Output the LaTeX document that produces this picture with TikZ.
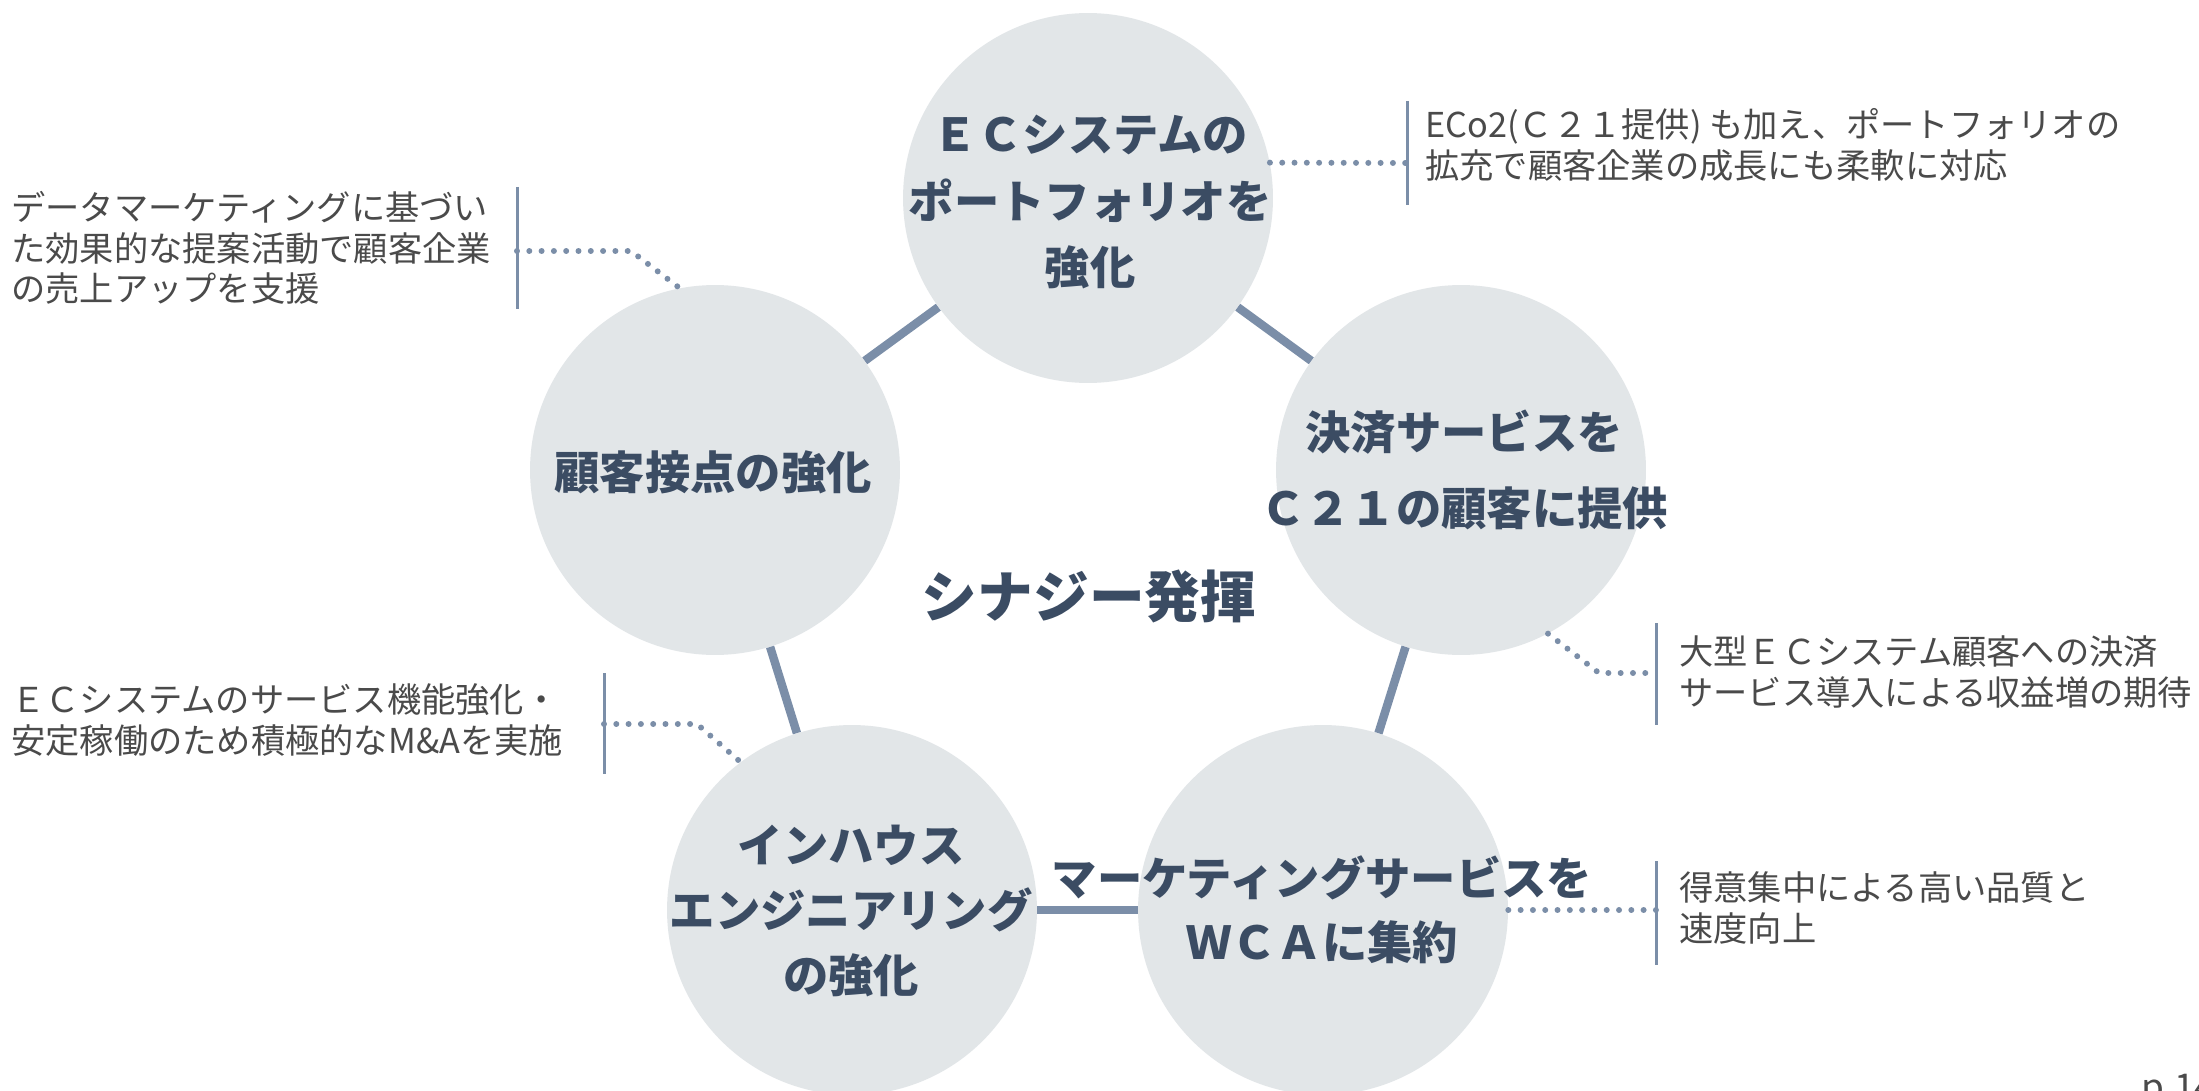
\documentclass[tikz,border=0pt]{standalone}
\usepackage{fontspec}
\setmainfont{Noto Sans CJK JP}
\definecolor{cfill}{HTML}{E2E6E8}
\definecolor{lblue}{HTML}{7B8EA8}
\definecolor{tdark}{HTML}{3B4C63}
\definecolor{tgray}{HTML}{4A4A4A}
\begin{document}
\begin{tikzpicture}[x=0.02cm,y=-0.02cm,
  circ/.style={circle, fill=cfill, minimum size=7.4cm, inner sep=0pt},
  ctext/.style={text=tdark, align=center, inner sep=0pt},
  link/.style={draw=lblue, line width=4.8pt},
  dotline/.style={draw=lblue, line width=3.4pt, line cap=round, dash pattern=on 0pt off 7pt},
  bar/.style={draw=lblue, line width=1.7pt},
  note/.style={font=\fontsize{19.5pt}{23.2pt}\selectfont, text=tgray, align=left, inner sep=0pt, anchor=west}]
\useasboundingbox (0,0) rectangle (2199,1091);
\fill[white] (0,0) rectangle (2199,1091);

% circles
\node[circ] (ctop) at (1088,198) {};
\node[circ] (cleft) at (715,470) {};
\node[circ] (cright) at (1461,470) {};
\node[circ] (cbl) at (852,910) {};
\node[circ] (cbr) at (1323,910) {};

% links
\draw[link] (ctop) -- (cleft);
\draw[link] (ctop) -- (cright);
\draw[link] (cright) -- (cbr);
\draw[link] (cbr) -- (cbl);
\draw[link] (cbl) -- (cleft);

% circle texts
\node[ctext, font=\fontsize{25.8pt}{38pt}\selectfont\bfseries] (ttop) at (1090,202) {ＥＣシステムの\\ポートフォリオを\\強化};
\node[ctext, font=\fontsize{25.8pt}{38pt}\selectfont\bfseries] (tleft) at (713,472) {顧客接点の強化};
\node[ctext, font=\fontsize{25.8pt}{43.6pt}\selectfont\bfseries] (tright) at (1464,470) {決済サービスを\\Ｃ２１の顧客に提供};
\node[ctext, font=\fontsize{25.8pt}{36.8pt}\selectfont\bfseries] (tbl) at (851,911) {インハウス\\エンジニアリング\\の強化};
\node[ctext, font=\fontsize{25.8pt}{36.3pt}\selectfont\bfseries] (tbr) at (1322,910) {マーケティングサービスを\\ＷＣＡに集約};
\node[ctext, font=\fontsize{31.7pt}{38pt}\selectfont\bfseries] (syn) at (1089,596) {シナジー発揮};

% notes
\node[note] (n1) at (1425,145) {ECo2(Ｃ２１提供) も加え、ポートフォリオの\\拡充で顧客企業の成長にも柔軟に対応};
\node[note] (n2) at (11,248) {データマーケティングに基づい\\た効果的な提案活動で顧客企業\\の売上アップを支援};
\node[note] (n3) at (1679,672) {大型ＥＣシステム顧客への決済\\サービス導入による収益増の期待};
\node[note] (n4) at (11,720) {ＥＣシステムのサービス機能強化・\\安定稼働のため積極的なM\&Aを実施};
\node[note] (n5) at (1679,908) {得意集中による高い品質と\\速度向上};

% bars
\coordinate (b1t) at (1407,101); \coordinate (b1b) at (1407,205);
\coordinate (b2t) at (517,187);  \coordinate (b2b) at (517,309);
\coordinate (b3t) at (1656,623); \coordinate (b3b) at (1656,725);
\coordinate (b4t) at (604,673);  \coordinate (b4b) at (604,774);
\coordinate (b5t) at (1656,861); \coordinate (b5b) at (1656,965);
\draw[bar] (b1t) -- (b1b);
\draw[bar] (b2t) -- (b2b);
\draw[bar] (b3t) -- (b3b);
\draw[bar] (b4t) -- (b4b);
\draw[bar] (b5t) -- (b5b);

% dotted leaders
\coordinate (d1) at (1407,163);
\draw[dotline] (ctop.11) -- (d1);
\coordinate (d2) at (517,251); \coordinate (k2) at (631,251);
\draw[dotline] (d2) -- (k2) -- (cleft.101);
\coordinate (d3) at (1656,673); \coordinate (k3) at (1599,673);
\draw[dotline] (cright.-62) -- (k3) -- (d3);
\coordinate (d4) at (604,724); \coordinate (k4) at (697,724);
\draw[dotline] (d4) -- (k4) -- (cbl.127);
\coordinate (d5) at (1656,910);
\draw[dotline] (cbr.0) -- (d5);

% page number (clipped by page edge, as in the reference)
\node[anchor=base west, inner sep=0pt, font=\fontsize{21pt}{24pt}\selectfont, text=tgray] (pg) at (2141,1100) {p.14};
\end{tikzpicture}
\end{document}
